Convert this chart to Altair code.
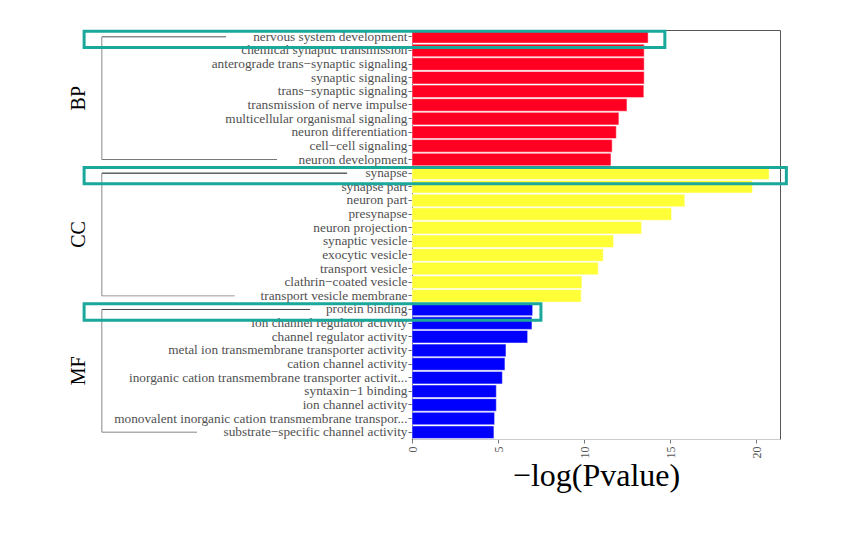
import altair as alt
import pandas as pd

# ---------------- data ----------------
groups = ["BP", "CC", "MF"]

bp_terms = ["nervous system development", "chemical synaptic transmission",
            "anterograde trans\u2212synaptic signaling", "synaptic signaling",
            "trans\u2212synaptic signaling", "transmission of nerve impulse",
            "multicellular organismal signaling", "neuron differentiation",
            "cell\u2212cell signaling", "neuron development"]
bp_vals = [13.72, 13.49, 13.49, 13.49, 13.47, 12.49, 12.02, 11.87, 11.63, 11.56]

cc_terms = ["synapse", "synapse part", "neuron part", "presynapse", "neuron projection",
            "synaptic vesicle", "exocytic vesicle", "transport vesicle",
            "clathrin\u2212coated vesicle", "transport vesicle membrane"]
cc_vals = [20.75, 19.78, 15.85, 15.08, 13.34, 11.71, 11.11, 10.82, 9.87, 9.83]

mf_terms = ["protein binding", "ion channel regulator activity", "channel regulator activity",
            "metal ion transmembrane transporter activity", "cation channel activity",
            "inorganic cation transmembrane transporter activit...", "syntaxin\u22121 binding",
            "ion channel activity", "monovalent inorganic cation transmembrane transpor...",
            "substrate\u2212specific channel activity"]
mf_vals = [7.01, 6.97, 6.72, 5.46, 5.40, 5.25, 4.90, 4.90, 4.80, 4.76]

group_colors = ["#FF0022", "#FFFF38", "#0000FF"]

# bracket lines beside group labels (x in data units, left of the axis)
bracket_x = -18.02
bracket_top_end = [-10.80, -3.77, -5.92]
bracket_bottom_end = [-7.84, -10.30, -12.49]
bracket_top_color = ["#555555", "#111111", "#444444"]
bracket_bottom_color = ["#777777", "#999999", "#888888"]
bracket_vert_color = "#888888"
group_label_x = -19.33

# highlight boxes
hl_terms = ["nervous system development", "synapse", "protein binding"]
hl_start = -19.05
hl_end = [14.69, 21.75, 7.49]

x_max = 21.38
x_ticks = [0, 5, 10, 15, 20]

# ---------------- tables ----------------
all_terms = bp_terms + cc_terms + mf_terms
term_lists = [bp_terms, cc_terms, mf_terms]
bars = pd.DataFrame({
    "term": all_terms,
    "value": bp_vals + cc_vals + mf_vals,
    "group": ["BP"] * len(bp_terms) + ["CC"] * len(cc_terms) + ["MF"] * len(mf_terms),
})

hrules = pd.DataFrame({
    "term": [t[0] for t in term_lists] + [t[-1] for t in term_lists],
    "x": [bracket_x] * 6,
    "x2": bracket_top_end + bracket_bottom_end,
    "lc": bracket_top_color + bracket_bottom_color,
})
vrules = pd.DataFrame({
    "term": [t[0] for t in term_lists],
    "term2": [t[-1] for t in term_lists],
    "x": [bracket_x] * 3,
})
glabels = pd.DataFrame({
    "term": [t[4] for t in term_lists],
    "x": [group_label_x] * 3,
    "text": groups,
})
hl = pd.DataFrame({"term": hl_terms, "x": [hl_start] * 3, "x2": hl_end})

FONT = "Liberation Serif"

xscale = alt.Scale(domain=[0, x_max], nice=False, zero=True)
yscale = alt.Scale(domain=all_terms, paddingInner=0, paddingOuter=0)

bar_layer = alt.Chart(bars).mark_bar(
    height=alt.RelativeBandSize(0.92), stroke="white", strokeOpacity=0.5, strokeWidth=1
).encode(
    x=alt.X("value:Q", scale=xscale,
            axis=alt.Axis(values=x_ticks, labelAngle=270, labelFont=FONT, labelFontSize=12,
                          labelColor="#555555", tickColor="#777777", tickSize=4,
                          labelPadding=3, domainColor="#cccccc", grid=False,
                          title="\u2212log(Pvalue)", titleFont=FONT, titleFontSize=32,
                          titleFontWeight="normal", titleColor="#000000",
                          titleBaseline="alphabetic", titleY=46)),
    y=alt.Y("term:N", scale=yscale,
            axis=alt.Axis(title=None, labelFont=FONT, labelFontSize=13.3, labelColor="#505050",
                          labelLimit=400, tickColor="#666666", tickSize=4, labelPadding=1,
                          domainColor="#222222", grid=False)),
    color=alt.Color("group:N", scale=alt.Scale(domain=groups, range=group_colors), legend=None),
)

hrule_layer = alt.Chart(hrules).mark_rule(strokeWidth=1).encode(
    x="x:Q", x2="x2:Q",
    y=alt.Y("term:N"),
    stroke=alt.Stroke("lc:N", scale=None),
)
vrule_layer = alt.Chart(vrules).mark_rule(strokeWidth=1, color=bracket_vert_color).encode(
    x="x:Q",
    y=alt.Y("term:N"), y2="term2:N",
)
text_layer = alt.Chart(glabels).mark_text(
    font=FONT, fontSize=20, color="black", angle=270, align="center", baseline="middle"
).encode(
    x="x:Q",
    y=alt.Y("term:N", bandPosition=1),
    text="text:N",
)
hl_layer = alt.Chart(hl).mark_bar(
    fillOpacity=0, stroke="#1AA89A", strokeWidth=3,
    height=alt.RelativeBandSize(1.2), yOffset=2.5
).encode(
    x="x:Q", x2="x2:Q",
    y=alt.Y("term:N"),
)

chart = alt.layer(bar_layer, hrule_layer, vrule_layer, text_layer, hl_layer).properties(
    width=368, height=409,
    autosize=alt.AutoSizeParams(type="none"),
    padding={"left": 404, "top": 22, "right": 50, "bottom": 80},
).configure_view(stroke="#555555", strokeWidth=1)

chart.save("out.html", embed_options={"renderer": "svg", "actions": False})
